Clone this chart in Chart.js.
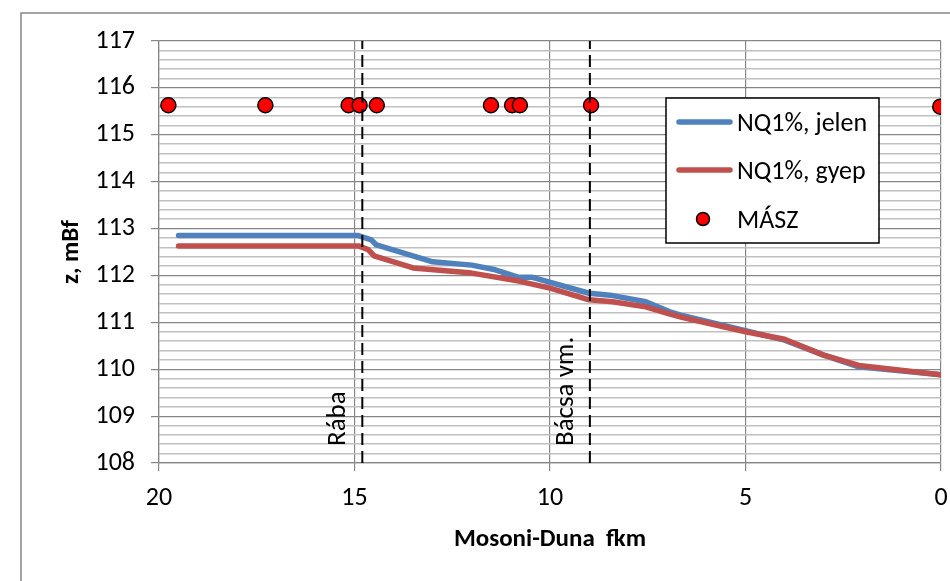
<!DOCTYPE html>
<html lang="hu">
<head>
<meta charset="UTF-8">
<title>Mosoni-Duna NQ1%</title>
<script src="https://cdn.jsdelivr.net/npm/chart.js"></script>
<style>
    body { margin: 0; background: #fff; }
    #wrap { width: 950px; height: 581px; }
</style>
</head>
<body>
<div id="wrap"><canvas id="chart" width="950" height="581"></canvas></div>
<script>
// data (fkm, mBf)
const kmJelen = [19.5, 14.9, 14.57, 14.44, 13.0, 12.0, 11.4, 10.8, 10.45, 9.0, 8.4, 7.55, 6.95, 6.6, 5.0, 4.0, 3.0, 2.1, 0.0];
const zJelen  = [112.85, 112.85, 112.76, 112.65, 112.29, 112.22, 112.12, 111.96, 111.96, 111.62, 111.57, 111.44, 111.23, 111.14, 110.82, 110.62, 110.30, 110.05, 109.88];

const kmGyep = [19.5, 14.9, 14.65, 14.5, 13.5, 12.0, 10.8, 10.0, 9.0, 8.4, 7.55, 6.95, 6.6, 5.0, 4.0, 3.0, 2.1, 0.0];
const zGyep  = [112.63, 112.63, 112.55, 112.42, 112.16, 112.05, 111.88, 111.73, 111.48, 111.44, 111.33, 111.18, 111.10, 110.80, 110.64, 110.30, 110.08, 109.88];

const kmMasz = [19.76, 17.28, 15.15, 14.87, 14.43, 11.51, 10.97, 10.77, 8.95, 0.02];
const zMasz  = [115.63, 115.63, 115.63, 115.63, 115.63, 115.63, 115.63, 115.63, 115.63, 115.6];

const markerKm = [14.8, 8.98];
const markerText = ['Rába', 'Bácsa vm.'];

const seriesNames = ['NQ1%, jelen', 'NQ1%, gyep', 'MÁSZ'];
const yMin = 108, yMax = 117, yStep = 0.2;
const xMin = 0, xMax = 20, xStep = 5;

const FONT = 'Carlito, "Liberation Sans", Arial, sans-serif';
const BLUE = '#4f81bd', RED = '#c0504d', GRID = '#868686', MINOR = '#c0c0c0';

const toPts = (xs, ys) => xs.map((x, i) => ({ x: x, y: ys[i] }));
const isMajor = v => Math.abs(v - Math.round(v)) < 1e-6;

const datasets = [
    {
        label: seriesNames[0], data: toPts(kmJelen, zJelen), showLine: true,
        borderColor: BLUE, borderWidth: 5.5, pointRadius: 0, borderCapStyle: 'round',
        borderJoinStyle: 'round', tension: 0, order: 4
    },
    {
        label: seriesNames[1], data: toPts(kmGyep, zGyep), showLine: true,
        borderColor: RED, borderWidth: 5.5, pointRadius: 0, borderCapStyle: 'round',
        borderJoinStyle: 'round', tension: 0, order: 3
    },
    {
        label: seriesNames[2], data: toPts(kmMasz, zMasz), showLine: false,
        pointRadius: 7.5, pointBackgroundColor: '#ff0000', pointBorderColor: '#000',
        pointBorderWidth: 1.5, order: 1
    }
];
// dashed vertical markers
markerKm.forEach(function (km, i) {
    datasets.push({
        label: markerText[i], data: [{ x: km, y: yMin }, { x: km, y: yMax }], showLine: true,
        borderColor: '#000', borderWidth: 2, borderDash: [12, 6], pointRadius: 0, order: 0
    });
});

const decor = {
    id: 'decor',
    beforeDraw(chart) {
        const ctx = chart.ctx;
        ctx.save();
        ctx.fillStyle = '#fff';
        ctx.fillRect(0, 0, chart.width, chart.height);
        ctx.strokeStyle = GRID;
        ctx.lineWidth = 1.5;
        ctx.beginPath();
        ctx.moveTo(21, chart.height + 5);
        ctx.lineTo(21, 13);
        ctx.lineTo(chart.width + 5, 13);
        ctx.stroke();
        ctx.restore();
    },
    afterDraw(chart) {
        const ctx = chart.ctx;
        const xs = chart.scales.x;
        ctx.save();
        // rotated marker labels
        ctx.fillStyle = '#000';
        ctx.font = '27px ' + FONT;
        ctx.textAlign = 'left';
        ctx.textBaseline = 'alphabetic';
        markerKm.forEach(function (km, i) {
            const px = xs.getPixelForValue(km);
            ctx.save();
            ctx.translate(px - 17, 446);
            ctx.rotate(-Math.PI / 2);
            ctx.fillText(markerText[i], 0, 0);
            ctx.restore();
        });
        // legend box
        const bx = 666, by = 98, bw = 213, bh = 145;
        ctx.fillStyle = '#fff';
        ctx.fillRect(bx, by, bw, bh);
        ctx.strokeStyle = '#000';
        ctx.lineWidth = 1.5;
        ctx.strokeRect(bx, by, bw, bh);
        ctx.font = '26px ' + FONT;
        ctx.textBaseline = 'middle';
        const rows = [122, 170, 219];
        [BLUE, RED].forEach(function (c, i) {
            ctx.strokeStyle = c;
            ctx.lineWidth = 5.5;
            ctx.lineCap = 'round';
            ctx.beginPath();
            ctx.moveTo(679, rows[i]);
            ctx.lineTo(730, rows[i]);
            ctx.stroke();
        });
        ctx.beginPath();
        ctx.arc(703, rows[2], 6.5, 0, Math.PI * 2);
        ctx.fillStyle = '#ff0000';
        ctx.fill();
        ctx.strokeStyle = '#000';
        ctx.lineWidth = 1.5;
        ctx.stroke();
        ctx.fillStyle = '#000';
        seriesNames.forEach(function (t, i) {
            ctx.fillText(t, 737, rows[i] + 2);
        });
        ctx.restore();
    }
};

new Chart(document.getElementById('chart'), {
    type: 'scatter',
    data: { datasets: datasets },
    options: {
        responsive: false,
        animation: false,
        layout: { padding: { top: 41, right: 7, left: 0, bottom: 0 } },
        plugins: { legend: { display: false }, tooltip: { enabled: false } },
        scales: {
            x: {
                type: 'linear', min: xMin, max: xMax, reverse: true,
                afterFit: s => { s.height = 118; s.paddingLeft = 0; s.paddingRight = 0; },
                ticks: { stepSize: xStep, padding: 12, color: '#000', font: { family: FONT, size: 26 } },
                grid: { color: GRID, tickColor: GRID, tickLength: 8, lineWidth: 1.2 },
                border: { color: GRID, width: 1.2 },
                title: {
                    display: true, text: 'Mosoni-Duna  fkm', color: '#000',
                    font: { family: FONT, size: 25, weight: 'bold' }, padding: { top: 0, bottom: 26 }
                }
            },
            y: {
                type: 'linear', min: yMin, max: yMax,
                afterFit: s => { s.width = 159; s.paddingTop = 0; s.paddingBottom = 0; },
                ticks: {
                    stepSize: yStep, autoSkip: false, padding: 16, color: '#000',
                    font: { family: FONT, size: 26 },
                    callback: v => isMajor(v) ? Math.round(v) : ''
                },
                grid: {
                    color: c => c.tick && isMajor(c.tick.value) ? GRID : MINOR,
                    tickColor: c => c.tick && isMajor(c.tick.value) ? GRID : 'rgba(0,0,0,0)',
                    lineWidth: c => c.tick && isMajor(c.tick.value) ? 1.2 : 1.5,
                    tickLength: 8
                },
                border: { color: GRID, width: 1.2 },
                title: {
                    display: true, text: 'z, mBf', color: '#000',
                    font: { family: FONT, size: 25, weight: 'bold' }, padding: { top: 57, bottom: 0 }
                }
            }
        }
    },
    plugins: [decor]
});
</script>
</body>
</html>
